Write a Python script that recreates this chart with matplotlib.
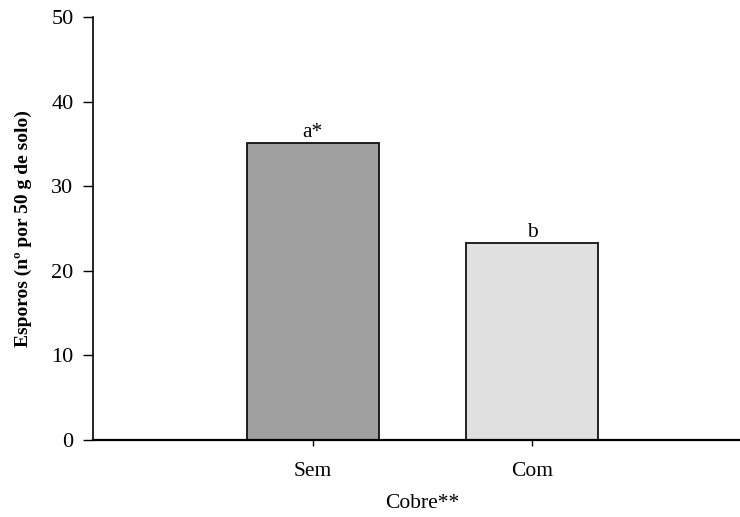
import matplotlib
matplotlib.use("Agg")
import matplotlib.pyplot as plt

categories = ["Sem", "Com"]
values = [35.1, 23.3]
letters = ["a*", "b"]
colors = ["#a0a0a0", "#e0e0e0"]
yticks = [0, 10, 20, 30, 40, 50]

plt.rcParams['font.family'] = ['Liberation Serif', 'DejaVu Serif']

fig = plt.figure(figsize=(7.4, 5.17), dpi=100)
W, H = 740, 517
left, right, top, bottom = 93, 752, 17, 440
ax = fig.add_axes([left / W, (H - bottom) / H, (right - left) / W, (bottom - top) / H])

x = list(range(len(categories)))
ax.bar(x, values, width=0.6, color=colors, edgecolor="#111111", linewidth=1.3, zorder=2)
for xi, v, l in zip(x, values, letters):
    ax.text(xi, v + 0.15, l, ha="center", va="bottom", fontsize=15.5)

ax.set_xlim(-1, 2)
ax.set_ylim(0, 50)
ax.set_yticks(yticks)
ax.set_xticks(x)
ax.set_xticklabels(categories, fontsize=15.5)
ax.tick_params(axis="y", labelsize=16, length=7, width=1, direction="out", pad=7)
ax.tick_params(axis="x", length=4, width=1, direction="out", pad=12)
for s in ["top", "right"]:
    ax.spines[s].set_visible(False)
ax.spines["left"].set_linewidth(1.2)
ax.spines["bottom"].set_linewidth(1.6)
ax.set_xlabel("Cobre**", fontsize=15.5, labelpad=9)
ax.set_ylabel("Esporos (nº por 50 g de solo)", fontsize=14, fontweight="bold", labelpad=14)

fig.savefig("out.png", dpi=100)
